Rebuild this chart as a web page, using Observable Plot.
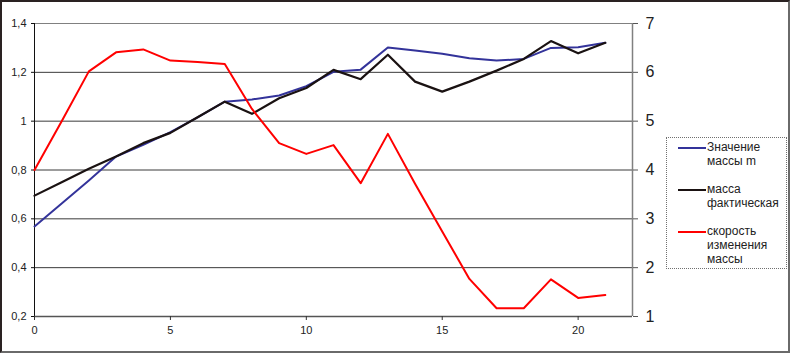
<!DOCTYPE html>
<html>
<head>
<meta charset="utf-8">
<script src="https://cdn.jsdelivr.net/npm/d3@7"></script>
<script src="https://cdn.jsdelivr.net/npm/@observablehq/plot@0.6"></script>
<style>
  body { margin: 0; background: #fff; }
  #wrap { position: relative; width: 800px; height: 361px; font-family: "Liberation Sans", Arial, sans-serif; }
  #frame { position: absolute; left: 0; top: 0; width: 790px; height: 353px; box-sizing: border-box;
           border-style: solid; border-width: 2px; border-color: #2a2222 #6a6a6a #6a6a6a #2a2222; pointer-events: none; }
  #legend { position: absolute; left: 666px; top: 137px; width: 121px; height: 132px; box-sizing: border-box;
            border: 1px dotted #707070; padding: 2px 0 0 11px; font-size: 12px; line-height: 14px; color: #222; }
  .entry { display: flex; align-items: flex-start; margin-bottom: 14px; }
  .sw { width: 28px; height: 2px; margin-top: 7px; flex: none; }
  .lab { margin-left: 1px; }
</style>
</head>
<body>
<div id="wrap"></div>
<script>
// x positions (time steps)
const steps = d3.range(0, 22);
// "Значение массы m" (left axis)
const massModel = [0.569, 0.663, 0.757, 0.855, 0.903, 0.955, 1.016, 1.08, 1.089, 1.105, 1.143, 1.202, 1.211, 1.302, 1.289, 1.276, 1.258, 1.248, 1.255, 1.300, 1.303, 1.321];
// "масса фактическая" (left axis)
const massActual = [0.695, 0.75, 0.805, 0.855, 0.91, 0.952, 1.016, 1.08, 1.03, 1.094, 1.136, 1.21, 1.172, 1.272, 1.162, 1.121, 1.162, 1.207, 1.255, 1.328, 1.278, 1.321];
// "скорость изменения массы" (right axis)
const massRate = [4.0, 5.0, 6.02, 6.41, 6.47, 6.24, 6.21, 6.17, 5.25, 4.55, 4.33, 4.51, 3.73, 4.74, 3.72, 2.74, 1.77, 1.17, 1.17, 1.76, 1.38, 1.44];

const leftTicks = [0.2, 0.4, 0.6, 0.8, 1.0, 1.2, 1.4];
const rightTicks = [1, 2, 3, 4, 5, 6, 7];
const xTicks = [0, 5, 10, 15, 20];
const xDomain = [0, 22];

const seriesNames = ["Значение массы m", "масса фактическая", "скорость изменения массы"];
const seriesColors = ["#33339a", "#1a1212", "#ff0000"];

// right axis value r maps onto left scale as r/5 (1..7 <-> 0.2..1.4)
const toLeft = r => r / 5;

const rows = [];
steps.forEach((s, i) => {
  rows.push({x: s, y: massModel[i], s: seriesNames[0]});
  rows.push({x: s, y: massActual[i], s: seriesNames[1]});
  rows.push({x: s, y: toLeft(massRate[i]), s: seriesNames[2]});
});

const fmtLeft = d => String(+d.toFixed(1)).replace(".", ",");

const chart = Plot.plot({
  width: 800,
  height: 361,
  marginLeft: 34,
  marginRight: 168,
  marginTop: 23,
  marginBottom: 45,
  style: {fontFamily: "'Liberation Sans', Arial, sans-serif", background: "transparent", color: "#222"},
  x: {domain: xDomain},
  y: {domain: [0.2, 1.4]},
  color: {domain: seriesNames, range: seriesColors},
  marks: [
    Plot.gridY(leftTicks.slice(1, -1), {stroke: "#3a3a3a", strokeOpacity: 1, strokeWidth: 1}),
    Plot.gridY([leftTicks[leftTicks.length - 1]], {stroke: "#808080", strokeOpacity: 1, strokeWidth: 1}),
    Plot.ruleX([xDomain[0]], {stroke: "#111", strokeWidth: 1}),
    Plot.ruleX([xDomain[1]], {stroke: "#808080", strokeWidth: 1.5}),
    Plot.ruleY([leftTicks[0]], {stroke: "#555", strokeWidth: 1.5}),
    Plot.axisY({anchor: "left", ticks: leftTicks, tickSize: 3, tickPadding: 5, tickFormat: fmtLeft, fontSize: 11, label: null, stroke: "#111"}),
    Plot.axisY({anchor: "right", ticks: rightTicks.map(toLeft), tickSize: 5, tickPadding: 8,
                tickFormat: d => String(Math.round(d * 5)), fontSize: 16, label: null, stroke: "#555"}),
    Plot.axisX({ticks: xTicks, tickSize: 4, tickPadding: 6, fontSize: 11, label: null, stroke: "#333"}),
    Plot.line(rows.filter(r => r.s === seriesNames[0]), {x: "x", y: "y", stroke: "s", strokeWidth: 2}),
    Plot.line(rows.filter(r => r.s === seriesNames[1]), {x: "x", y: "y", stroke: "s", strokeWidth: 2.2}),
    Plot.line(rows.filter(r => r.s === seriesNames[2]), {x: "x", y: "y", stroke: "s", strokeWidth: 2})
  ]
});

const wrap = document.getElementById("wrap");
chart.style.position = "absolute";
chart.style.left = "0";
chart.style.top = "0";
wrap.appendChild(chart);

const frame = document.createElement("div");
frame.id = "frame";
wrap.appendChild(frame);

const legendLines = [["Значение", "массы m"], ["масса", "фактическая"], ["скорость", "изменения", "массы"]];
const legend = document.createElement("div");
legend.id = "legend";
seriesNames.forEach((name, i) => {
  const e = document.createElement("div");
  e.className = "entry";
  const sw = document.createElement("span");
  sw.className = "sw";
  sw.style.background = seriesColors[i];
  const lab = document.createElement("span");
  lab.className = "lab";
  lab.innerHTML = legendLines[i].join("<br>");
  e.appendChild(sw);
  e.appendChild(lab);
  legend.appendChild(e);
});
wrap.appendChild(legend);
</script>
</body>
</html>
